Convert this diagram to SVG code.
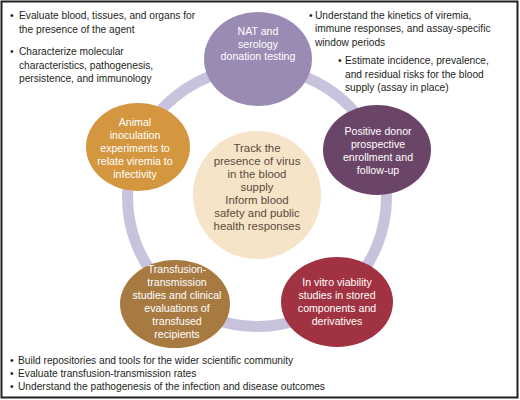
<svg xmlns="http://www.w3.org/2000/svg" width="520" height="400" viewBox="0 0 520 400">
<style>
.body{font-family:"Liberation Sans",Arial,sans-serif;font-size:10.2px;fill:#231f20}
.nt{font-family:"Liberation Sans",Arial,sans-serif;font-size:10.6px;fill:#ffffff;text-anchor:middle}
.ct{font-family:"Liberation Sans",Arial,sans-serif;font-size:11.4px;fill:#5b4a3c;text-anchor:middle}
</style>
<rect x="0" y="0" width="520" height="400" fill="#ffffff"/>
<rect x="1.5" y="1.5" width="516" height="396" fill="none" stroke="#231f20" stroke-width="2"/>
<g id="connectors">
<circle cx="257" cy="197" r="129.5" fill="none" stroke="#c9c2dc" stroke-width="11"/>
</g>
<g id="center">
<circle cx="257" cy="195" r="64" fill="#f6e4c9"/>
<text class="ct" x="257" y="152">Track the</text>
<text class="ct" x="257" y="165">presence of virus</text>
<text class="ct" x="257" y="178">in the blood</text>
<text class="ct" x="257" y="191">supply</text>
<text class="ct" x="257" y="204">Inform blood</text>
<text class="ct" x="257" y="217">safety and public</text>
<text class="ct" x="257" y="230">health responses</text>
</g>
<g id="nat">
<ellipse cx="258" cy="59" rx="54" ry="47" fill="#9a8bb4"/>
<text class="nt" x="258" y="35">NAT and</text>
<text class="nt" x="258" y="47.5">serology</text>
<text class="nt" x="258" y="60">donation testing</text>
</g>
<g id="positive">
<ellipse cx="377" cy="150" rx="54" ry="45" fill="#6b4567"/>
<text class="nt" x="378" y="135">Positive donor</text>
<text class="nt" x="378" y="148">prospective</text>
<text class="nt" x="378" y="161">enrollment and</text>
<text class="nt" x="378" y="174">follow-up</text>
</g>
<g id="invitro">
<ellipse cx="337" cy="302" rx="56" ry="45" fill="#a03241"/>
<text class="nt" x="337" y="286">In vitro viability</text>
<text class="nt" x="337" y="299">studies in stored</text>
<text class="nt" x="337" y="312">components and</text>
<text class="nt" x="337" y="325">derivatives</text>
</g>
<g id="transfusion">
<ellipse cx="175" cy="304" rx="55" ry="44" fill="#a77a42"/>
<text class="nt" x="177" y="273">Transfusion-</text>
<text class="nt" x="177" y="286">transmission</text>
<text class="nt" x="177" y="299">studies and clinical</text>
<text class="nt" x="177" y="312">evaluations of</text>
<text class="nt" x="177" y="325">transfused</text>
<text class="nt" x="177" y="338">recipients</text>
</g>
<g id="animal">
<ellipse cx="138" cy="147" rx="52" ry="44" fill="#d4963f"/>
<text class="nt" x="135" y="126">Animal</text>
<text class="nt" x="135" y="139">inoculation</text>
<text class="nt" x="135" y="152">experiments to</text>
<text class="nt" x="135" y="165">relate viremia to</text>
<text class="nt" x="135" y="178">infectivity</text>
</g>
<g id="notes">
<text class="body" x="10" y="19">•</text>
<text class="body" x="19" y="19">Evaluate blood, tissues, and organs for</text>
<text class="body" x="19" y="32.5">the presence of the agent</text>
<text class="body" x="10" y="55">•</text>
<text class="body" x="19" y="55">Characterize molecular</text>
<text class="body" x="19" y="68.5">characteristics, pathogenesis,</text>
<text class="body" x="19" y="82">persistence, and immunology</text>
<text class="body" x="309" y="18.5">•</text>
<text class="body" x="315" y="18.5">Understand the kinetics of viremia,</text>
<text class="body" x="315" y="32">immune responses, and assay-specific</text>
<text class="body" x="315" y="45.5">window periods</text>
<text class="body" x="338" y="64">•</text>
<text class="body" x="345" y="64">Estimate incidence, prevalence,</text>
<text class="body" x="345" y="77.5">and residual risks for the blood</text>
<text class="body" x="345" y="91">supply (assay in place)</text>
<text class="body" x="10" y="364">•</text>
<text class="body" x="18" y="364">Build repositories and tools for the wider scientific community</text>
<text class="body" x="10" y="377">•</text>
<text class="body" x="18" y="377">Evaluate transfusion-transmission rates</text>
<text class="body" x="10" y="390">•</text>
<text class="body" x="18" y="390">Understand the pathogenesis of the infection and disease outcomes</text>
</g>
</svg>
